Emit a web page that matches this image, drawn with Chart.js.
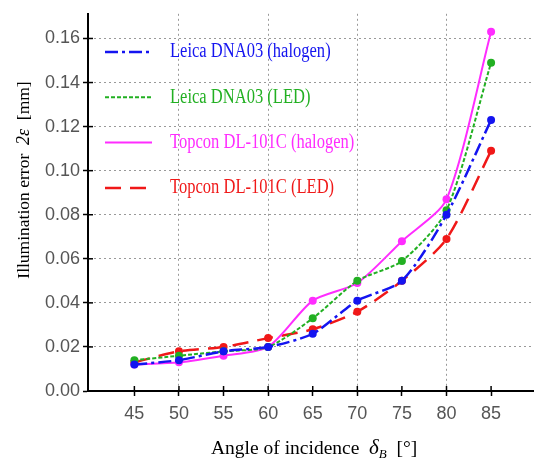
<!DOCTYPE html>
<html>
<head>
<meta charset="utf-8">
<script src="https://cdn.jsdelivr.net/npm/chart.js@4"></script>
<style>
  html, body { margin: 0; padding: 0; background: #fff; }
  #wrap { width: 537px; height: 465px; }
</style>
</head>
<body>
<div id="wrap"><canvas id="chart"></canvas></div>
<script>
// angle of incidence [deg]
const angles = [45, 50, 55, 60, 65, 70, 75, 80, 85];

// illumination error 2e [mm]
const leicaHalogen  = [0.012, 0.014, 0.018, 0.020, 0.026, 0.041, 0.050, 0.080, 0.123];
const leicaLed      = [0.014, 0.016, 0.018, 0.020, 0.033, 0.050, 0.059, 0.082, 0.149];
const topconHalogen = [0.012, 0.013, 0.016, 0.020, 0.041, 0.049, 0.068, 0.087, 0.163];
const topconLed     = [0.013, 0.018, 0.020, 0.024, 0.028, 0.036, 0.050, 0.069, 0.109];

const seriesNames = ['Leica DNA03 (halogen)', 'Leica DNA03 (LED)', 'Topcon DL-101C (halogen)', 'Topcon DL-101C (LED)'];
const xTicks = [45, 50, 55, 60, 65, 70, 75, 80, 85];
const yTicks = [0, 0.02, 0.04, 0.06, 0.08, 0.10, 0.12, 0.14, 0.16];

const colors = ['#1414f0', '#22b022', '#ff2cff', '#f01818'];
const dashes = [[13, 4, 3, 4], [4, 2], [], [16, 9]];
const widths = [2.5, 2, 2, 2.5];

const pts = (ys) => angles.map((a, i) => ({ x: a, y: ys[i] }));

const makeSet = (label, ys, i) => ({
  label,
  data: pts(ys),
  borderColor: colors[i],
  backgroundColor: colors[i],
  borderDash: dashes[i],
  borderWidth: widths[i],
  pointRadius: 4,
  pointBorderWidth: 0,
  tension: 0.25
});

const serif = "'Liberation Serif', 'DejaVu Serif', serif";

// legend inside the plot, axis titles and the inner half of the tick marks
const extras = {
  id: 'extras',
  afterDraw(chart) {
    const { ctx, chartArea, scales } = chart;
    ctx.save();

    // inner tick marks
    ctx.strokeStyle = '#000';
    ctx.lineWidth = 1.5;
    ctx.setLineDash([]);
    xTicks.forEach(v => {
      const x = scales.x.getPixelForValue(v);
      ctx.beginPath(); ctx.moveTo(x, chartArea.bottom); ctx.lineTo(x, chartArea.bottom - 5); ctx.stroke();
    });
    yTicks.forEach(v => {
      const y = scales.y.getPixelForValue(v);
      ctx.beginPath(); ctx.moveTo(chartArea.left, y); ctx.lineTo(chartArea.left + 5, y); ctx.stroke();
    });

    // legend
    ctx.font = '19px ' + serif;
    ctx.textBaseline = 'middle';
    chart.data.datasets.forEach((ds, i) => {
      const y = 52 + i * 45.3;
      ctx.strokeStyle = colors[i];
      ctx.lineWidth = widths[i];
      ctx.setLineDash(dashes[i]);
      ctx.beginPath(); ctx.moveTo(105, y); ctx.lineTo(152, y); ctx.stroke();
      ctx.setLineDash([]);
      ctx.fillStyle = colors[i];
      ctx.save();
      ctx.translate(170, y);
      ctx.scale(0.87, 1.05);
      ctx.fillText(ds.label, 0, 0);
      ctx.restore();
    });

    // x title
    ctx.fillStyle = '#000';
    ctx.textBaseline = 'alphabetic';
    const base = 454;
    let x = 211;
    const part = (txt, font, dy = 0) => {
      ctx.font = font;
      ctx.fillText(txt, x, base + dy);
      x += ctx.measureText(txt).width;
    };
    part('Angle of incidence  ', '19.5px ' + serif);
    part('\u03B4', 'italic 21px ' + serif);
    part('B', 'italic 13px ' + serif, 4);
    part('  [\u00B0]', '19.5px ' + serif);

    // y title
    ctx.save();
    ctx.translate(29, 180);
    ctx.rotate(-Math.PI / 2);
    const yt = [['Illumination error  ', '17.5px ' + serif], ['2\u03B5', 'italic 18px ' + serif], ['  [mm]', '17.5px ' + serif]];
    let w = 0;
    yt.forEach(([t, f]) => { ctx.font = f; w += ctx.measureText(t).width; });
    let px = -w / 2;
    yt.forEach(([t, f]) => { ctx.font = f; ctx.fillText(t, px, 0); px += ctx.measureText(t).width; });
    ctx.restore();

    ctx.restore();
  }
};

const tickFont = { family: "'Liberation Sans', 'DejaVu Sans', sans-serif", size: 18 };

new Chart(document.getElementById('chart'), {
  type: 'line',
  data: {
    datasets: [
      makeSet(seriesNames[0], leicaHalogen, 0),
      makeSet(seriesNames[1], leicaLed, 1),
      makeSet(seriesNames[2], topconHalogen, 2),
      makeSet(seriesNames[3], topconLed, 3)
    ]
  },
  options: {
    responsive: true,
    maintainAspectRatio: false,
    animation: false,
    layout: { padding: { top: 5, right: 0, left: 0, bottom: 0 } },
    plugins: { legend: { display: false }, tooltip: { enabled: false } },
    scales: {
      x: {
        type: 'linear',
        min: 39.8,
        max: 89.7,
        afterBuildTicks: (s) => { s.ticks = xTicks.map(v => ({ value: v })); },
        afterFit: (s) => { s.height = 74; },
        ticks: { color: '#555', font: tickFont, padding: 7, maxRotation: 0 },
        grid: {
          color: (c) => (c.tick && c.tick.value % 10 === 0) ? '#999' : 'rgba(0,0,0,0)',
          tickColor: '#000',
          tickLength: 5,
          tickWidth: 1.5,
          lineWidth: 1
        },
        border: { color: '#000', width: 2, dash: [2, 3] }
      },
      y: {
        min: 0,
        max: 0.1712,
        afterBuildTicks: (s) => { s.ticks = yTicks.map(v => ({ value: v })); },
        afterFit: (s) => { s.width = 88; },
        ticks: { color: '#555', font: tickFont, padding: 3, callback: (v) => v.toFixed(2) },
        grid: {
          color: (c) => (c.tick && c.tick.value > 0) ? '#999' : 'rgba(0,0,0,0)',
          tickColor: '#000',
          tickLength: 5,
          tickWidth: 1.5,
          lineWidth: 1
        },
        border: { color: '#000', width: 2, dash: [2, 3] }
      }
    }
  },
  plugins: [extras]
});
</script>
</body>
</html>
